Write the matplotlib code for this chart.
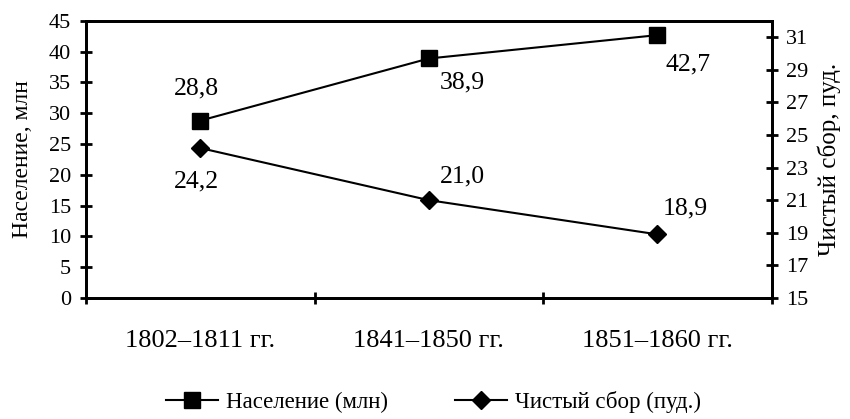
import matplotlib
matplotlib.use("Agg")
import matplotlib.pyplot as plt
from matplotlib.ticker import FixedLocator

plt.rcParams['font.family'] = ['Liberation Serif', 'DejaVu Serif']

categories = ["1802–1811 гг.", "1841–1850 гг.", "1851–1860 гг."]
population = [28.8, 38.9, 42.7]
harvest = [24.2, 21.0, 18.9]
pop_labels = ["28,8", "38,9", "42,7"]
harv_labels = ["24,2", "21,0", "18,9"]
left_ticks = [0, 5, 10, 15, 20, 25, 30, 35, 40, 45]
right_ticks = [15, 17, 19, 21, 23, 25, 27, 29, 31]

fig = plt.figure(figsize=(8.5, 4.19), dpi=100)
ax = fig.add_axes([0.101, 0.289, 0.807, 0.661])
ax2 = ax.twinx()

x = list(range(len(categories)))
l1, = ax.plot(x, population, color='black', lw=1.5, marker='s', markersize=11,
              label='Население (млн)')
l2, = ax2.plot(x, harvest, color='black', lw=1.5, marker='D', markersize=9,
               label='Чистый сбор (пуд.)')

ax.set_xlim(-0.5, 2.5)
ax.set_ylim(0, 45)
ax2.set_ylim(15, 32)
ax.set_yticks(left_ticks)
ax2.set_yticks(right_ticks)

ax.xaxis.set_major_locator(FixedLocator([-0.5, 0.5, 1.5, 2.5]))
ax.set_xticklabels([])
ax.xaxis.set_minor_locator(FixedLocator(x))
ax.set_xticklabels(categories, minor=True)
ax.tick_params(axis='x', which='minor', length=0, pad=23, labelsize=19)
ax.tick_params(axis='x', which='major', direction='inout', length=9, width=2)
ax.tick_params(axis='y', direction='inout', length=9, width=2, labelsize=16, pad=6)
ax2.tick_params(axis='y', direction='inout', length=9, width=2, labelsize=16, pad=6)

for a in (ax, ax2):
    for s in a.spines.values():
        s.set_linewidth(2)

ax.set_ylabel('Население, млн', fontsize=17)
ax.yaxis.set_label_coords(-0.077, 0.5)
ax2.set_ylabel('Чистый сбор, пуд.', fontsize=18, rotation=90)
ax2.yaxis.set_label_coords(1.066, 0.5)

pop_offsets = [(-3, 23), (24, -17), (22, -21)]
harv_offsets = [(-3, -24), (24, 17), (20, 19)]
for i in range(len(categories)):
    ax.annotate(pop_labels[i], (x[i], population[i]), xytext=pop_offsets[i],
                textcoords='offset points', ha='center', va='center', fontsize=18.5)
    ax2.annotate(harv_labels[i], (x[i], harvest[i]), xytext=harv_offsets[i],
                 textcoords='offset points', ha='center', va='center', fontsize=18.5)

fig.legend([l1, l2], [l1.get_label(), l2.get_label()], loc='center',
           bbox_to_anchor=(0.51, 0.04), ncol=2, frameon=False, fontsize=16.5,
           handlelength=2.3, handletextpad=0.35, columnspacing=2.9,
           borderpad=0.1)

fig.savefig('out.png', dpi=100)
